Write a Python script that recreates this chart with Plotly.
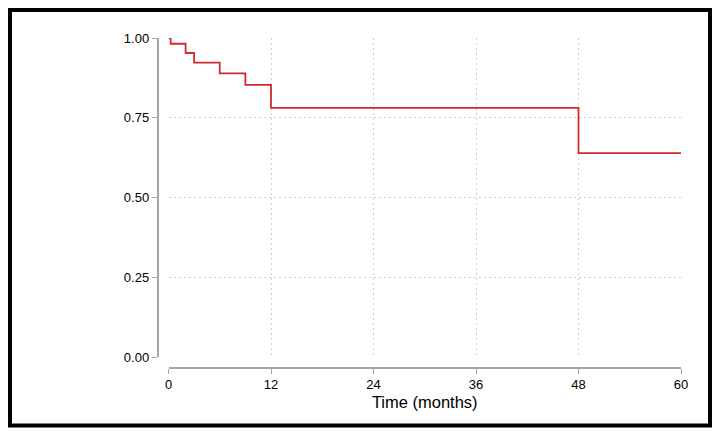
import plotly.graph_objects as go

# Kaplan-Meier step data (months, survival probability)
time_months = [0, 0.25, 2, 3, 6, 9, 12, 48, 60]
survival = [1.0, 0.982, 0.953, 0.923, 0.889, 0.853, 0.781, 0.639, 0.639]

x_ticks = [0, 12, 24, 36, 48, 60]
y_ticks = [0.0, 0.25, 0.5, 0.75, 1.0]
y_tick_labels = ["0.00", "0.25", "0.50", "0.75", "1.00"]

W, H = 720, 437
# pixel geometry
x0_px, x1_px = 168.5, 681.0
y_top_px, y_bot_px = 38.0, 357.0
yaxis_line_px = 157.5
xaxis_line_px = 368.0

fig = go.Figure()
fig.add_trace(go.Scatter(
    x=time_months, y=survival, mode="lines",
    line=dict(color="#d42a2a", width=1.8, shape="hv"),
    showlegend=False, hoverinfo="skip", cliponaxis=False,
))

axis_color = "#a6a6a6"
grid_color = "#cfcfcf"
fig.update_layout(
    width=W, height=H,
    margin=dict(l=0, r=0, t=0, b=0),
    paper_bgcolor="white", plot_bgcolor="rgba(0,0,0,0)",
    font=dict(family="Liberation Sans, Arial, sans-serif", size=13, color="black"),
    xaxis=dict(
        domain=[x0_px / W, x1_px / W],
        anchor="free", position=1 - xaxis_line_px / H, automargin=False,
        range=[0, 60], tickvals=x_ticks, ticktext=[str(t) for t in x_ticks],
        showline=True, linecolor=axis_color, linewidth=1.5,
        ticks="outside", ticklen=5, tickcolor=axis_color, tickwidth=1.2,
        showgrid=True, gridcolor=grid_color, gridwidth=1, griddash="2px,3px",
        zeroline=False,
        title=dict(text="Time (months)", font=dict(size=16.5), standoff=4),
        tickfont=dict(size=13),
    ),
    yaxis=dict(
        domain=[1 - y_bot_px / H, 1 - y_top_px / H],
        anchor="free", position=yaxis_line_px / W, automargin=False,
        range=[0, 1], tickvals=y_ticks, ticktext=y_tick_labels,
        showline=True, linecolor=axis_color, linewidth=1.5,
        ticks="outside", ticklen=5, tickcolor=axis_color, tickwidth=1.2,
        showgrid=True, gridcolor=grid_color, gridwidth=1, griddash="2px,3px",
        zeroline=False, tickfont=dict(size=13),
    ),
    shapes=[dict(
        type="rect", xref="paper", yref="paper",
        x0=10 / W, x1=710 / W, y0=1 - 425.5 / H, y1=1 - 10 / H,
        line=dict(color="black", width=4), fillcolor="rgba(0,0,0,0)",
    )],
)

fig.write_html("out.html", config={"displayModeBar": False},
               post_script="document.body.style.margin='0';")
